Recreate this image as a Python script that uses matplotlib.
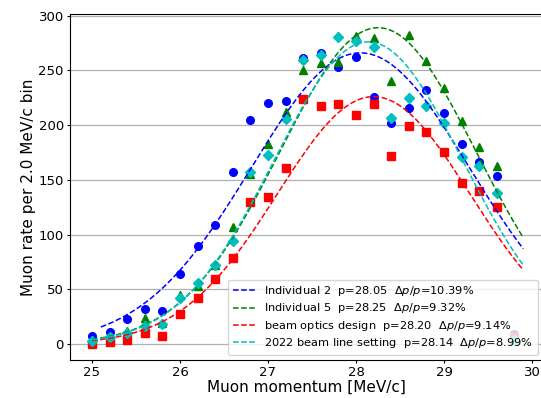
import numpy as np
import matplotlib
matplotlib.use("Agg")
import matplotlib.pyplot as plt

# --- muon momentum scan: measured rates and gaussian fits ---

momentum = [25.0, 25.2, 25.4, 25.6, 25.8, 26.0, 26.2, 26.4, 26.6, 26.8,
            27.0, 27.2, 27.4, 27.6, 27.8, 28.0, 28.2, 28.4, 28.6, 28.8,
            29.0, 29.2, 29.4, 29.6, 29.8]

rate_ind2 = [7.6, 11, 22.6, 31.7, 30.2, 63.7, 89.9, 108.5, 157, 204.8,
             220, 222, 261, 265.7, 252.9, 262.6, 225.5, 201.7, 215.4, 232.2,
             210.9, 182.8, 166.6, 153.9, 9]
rate_ind5 = [4, 6, 11.9, 23.8, 19, 44.8, 53, 72.2, 107.2, 155,
             182.8, 211.8, 250.5, 257.1, 258, 281.5, 279.4, 240.4, 282.2, 258.7,
             234.3, 203.8, 180.4, 162.7, 4]
rate_design = [0, 1.5, 3.7, 9.8, 7.6, 27.4, 41.8, 59.1, 78.3, 129.8,
               134.7, 161.2, 224, 217.8, 219.1, 209, 219.1, 171.8, 199.6, 194.1,
               175.8, 146.9, 140.1, 125, 6]
rate_2022 = [3, 6.7, 9.8, 16.7, 18.3, 42.3, 55.5, 72, 94.4, 157.5,
             172.8, 205.7, 259.6, 264.2, 280.3, 277.2, 271.8, 206.3, 225, 217.8,
             201.7, 170.6, 163, 137.7, 4]

# fit parameters (mean p, dp/p = FWHM/p, peak height, fit range start)
names = ["Individual 2", "Individual 5", "beam optics design", "2022 beam line setting"]
fit_p = [28.05, 28.25, 28.20, 28.14]
fit_dpp = [10.39, 9.32, 9.14, 8.99]
fit_amp = [266, 289, 226, 276]
fit_start = [25.1, 25.0, 25.0, 25.0]
fit_end = 29.9

colors = ["b", "g", "r", "c"]
markers = ["o", "^", "s", "D"]
rates = [rate_ind2, rate_ind5, rate_design, rate_2022]

fig = plt.figure(figsize=(5.41, 3.98), dpi=100)
ax = fig.add_axes([70 / 541, 38 / 398, 473 / 541, 346 / 398])

for i in range(4):
    ax.plot(momentum, rates[i], markers[i], color=colors[i], markersize=5.5, linestyle="none")

for i in range(4):
    sigma = fit_dpp[i] / 100 * fit_p[i] / 2.355
    xs = np.linspace(fit_start[i], fit_end, 200)
    ys = fit_amp[i] * np.exp(-0.5 * ((xs - fit_p[i]) / sigma) ** 2)
    lbl = f"{names[i]}  p={fit_p[i]:.2f}  $\\Delta p/p$={fit_dpp[i]:.2f}%"
    ax.plot(xs, ys, "--", color=colors[i], linewidth=1.1, label=lbl)

ax.set_xlim(24.75, 30.125)
ax.set_ylim(-14.6, 301.5)
ax.set_xticks([25, 26, 27, 28, 29, 30])
ax.set_yticks([0, 50, 100, 150, 200, 250, 300])
ax.tick_params(labelsize=9.5, length=2.5, pad=2)
ax.grid(True, axis="y", color="#b0b0b0", linewidth=0.9)
ax.set_axisbelow(True)
ax.set_xlabel("Muon momentum [MeV/c]", fontsize=11, labelpad=0.5)
ax.set_ylabel("Muon rate per 2.0 MeV/c bin", fontsize=11, labelpad=2)
ax.legend(loc="lower right", fontsize=8.2, labelspacing=0.3, borderaxespad=0.45)

fig.savefig("out.png", dpi=100)
